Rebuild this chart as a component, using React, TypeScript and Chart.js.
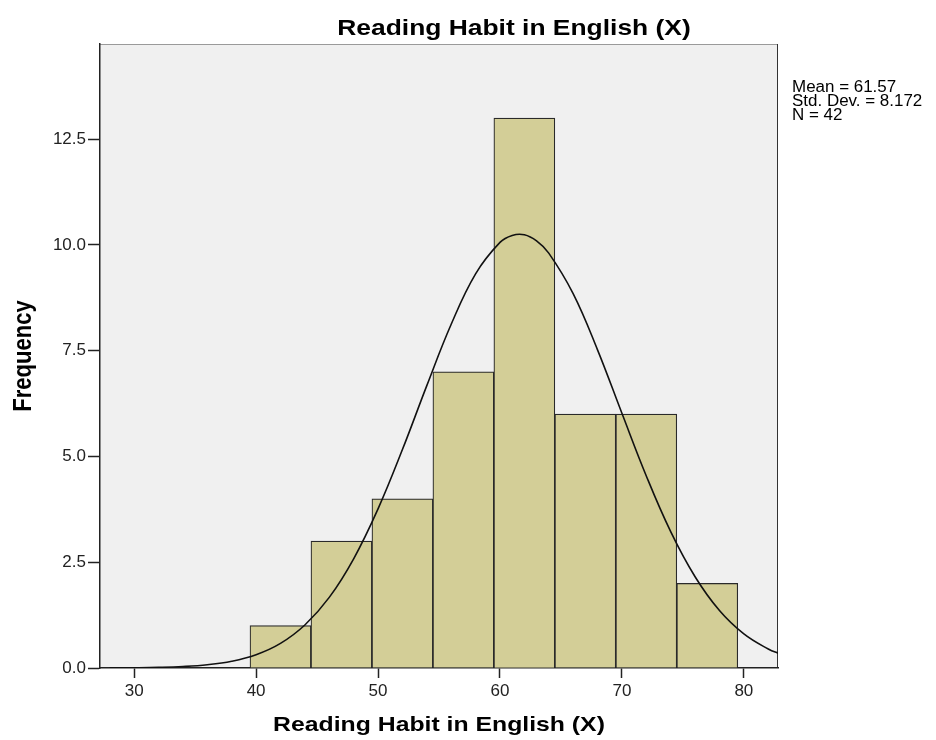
import React, { useEffect, useRef } from "react";
import { Chart, registerables } from "chart.js";

Chart.register(...registerables);

// ---- data ----
const chartTitle = "Reading Habit in English (X)";
const xAxisTitle = "Reading Habit in English (X)";
const yAxisTitle = "Frequency";
const binCenters = [42, 47, 52, 57, 62, 67, 72, 77];
const frequencies = [1, 3, 4, 7, 13, 6, 6, 2];
const curveX = [28, 30, 32, 34, 36, 38, 40, 42, 44, 46, 48, 50, 52, 54, 56, 58, 60, 61, 62, 63, 64, 66, 68, 70, 72, 74, 76, 78, 80, 82, 83];
const curveY = [0.002, 0.006, 0.015, 0.035, 0.077, 0.16, 0.314, 0.582, 1.017, 1.669, 2.582, 3.762, 5.163, 6.675, 8.125, 9.317, 10.06, 10.225, 10.24, 10.094, 9.807, 8.85, 7.521, 6.021, 4.54, 3.224, 2.157, 1.358, 0.806, 0.45, 0.329];
const statsLines = ["Mean = 61.57", "Std. Dev. = 8.172", "N = 42"];
const xMin = 27.2;
const xMax = 82.8;
const yMax = 14.75;

const FONT = "'Liberation Sans', Arial, sans-serif";

function drawText(ctx: CanvasRenderingContext2D, text: string, x: number, y: number, font: string, align: CanvasTextAlign, sx: number, rotate = 0) {
  ctx.save();
  ctx.translate(x, y);
  ctx.scale(sx, 1);
  if (rotate) ctx.rotate(rotate);
  ctx.font = font;
  ctx.textAlign = align;
  ctx.textBaseline = rotate ? "middle" : "alphabetic";
  ctx.fillStyle = "#000";
  ctx.fillText(text, 0, 0);
  ctx.restore();
}

const decorPlugin = {
  id: "decor",
  beforeDraw(chart: any) {
    const { ctx, chartArea } = chart;
    const { left, top, right, bottom } = chartArea;
    ctx.save();
    ctx.fillStyle = "#F0F0F0";
    ctx.fillRect(left, top, right - left, bottom - top);
    ctx.strokeStyle = "#9A9A9A";
    ctx.lineWidth = 1;
    ctx.beginPath();
    ctx.moveTo(left, top + 0.5);
    ctx.lineTo(right, top + 0.5);
    ctx.stroke();
    ctx.strokeStyle = "#333";
    ctx.beginPath();
    ctx.moveTo(right - 0.5, top);
    ctx.lineTo(right - 0.5, bottom);
    ctx.stroke();
    ctx.restore();
  },
  afterDraw(chart: any) {
    const { ctx, chartArea } = chart;
    const cx = (chartArea.left + chartArea.right) / 2;
    const cy = (chartArea.top + chartArea.bottom) / 2;
    drawText(ctx, chartTitle, 514, 35, `bold 22px ${FONT}`, "center", 1.2);
    drawText(ctx, xAxisTitle, cx, 731, `bold 21px ${FONT}`, "center", 1.18);
    drawText(ctx, yAxisTitle, 24, cy, `bold 22px ${FONT}`, "center", 1.15, -Math.PI / 2);
    statsLines.forEach((s, i) => {
      drawText(ctx, s, 792, 92 + i * 14, `16px ${FONT}`, "left", 1.06);
    });
  },
};

export default function App() {
  const ref = useRef<HTMLCanvasElement | null>(null);
  useEffect(() => {
    if (!ref.current) return;
    const chart = new Chart(ref.current, {
      type: "bar",
      data: {
        datasets: [
          {
            type: "line",
            data: curveX.map((x, i) => ({ x, y: curveY[i] })),
            borderColor: "#111",
            borderWidth: 1.6,
            pointRadius: 0,
            fill: false,
            tension: 0.4,
            order: 0,
          } as any,
          {
            type: "bar",
            data: binCenters.map((x, i) => ({ x, y: frequencies[i] })),
            backgroundColor: "#D3CE97",
            borderColor: "#2A2A2A",
            borderWidth: 1.2,
            barPercentage: 1,
            categoryPercentage: 1,
            order: 1,
          } as any,
        ],
      },
      options: {
        animation: false,
        responsive: false,
        layout: { padding: { left: 0, right: 158, top: 44, bottom: 0 } },
        plugins: { legend: { display: false }, tooltip: { enabled: false }, title: { display: false } },
        scales: {
          x: {
            type: "linear",
            min: xMin,
            max: xMax,
            offset: false,
            afterFit: (s: any) => { s.height = 72; },
            ticks: {
              stepSize: 10,
              includeBounds: false,
              padding: 3,
              color: "#222",
              font: { family: FONT, size: 17 },
              maxRotation: 0,
              callback: (v: any) => String(v),
            },
            grid: { display: true, offset: false, drawOnChartArea: false, drawTicks: true, tickLength: 10, color: "#222", tickWidth: 1.5 },
            border: { display: true, color: "#222", width: 1.5 },
          },
          y: {
            min: 0,
            max: yMax,
            afterFit: (s: any) => { s.width = 100; },
            ticks: {
              stepSize: 2.5,
              includeBounds: false,
              padding: 2,
              color: "#222",
              font: { family: FONT, size: 17 },
              callback: (v: any) => Number(v).toFixed(1),
            },
            grid: { display: true, drawOnChartArea: false, drawTicks: true, tickLength: 12, color: "#222", tickWidth: 1.5 },
            border: { display: true, color: "#222", width: 1.5 },
          },
        },
      },
      plugins: [decorPlugin],
    } as any);
    return () => chart.destroy();
  }, []);
  return (
    <div style={{ position: "fixed", left: 0, top: 0, width: 936, height: 740, background: "#fff" }}>
      <canvas ref={ref} width={936} height={740} style={{ display: "block" }} />
    </div>
  );
}
